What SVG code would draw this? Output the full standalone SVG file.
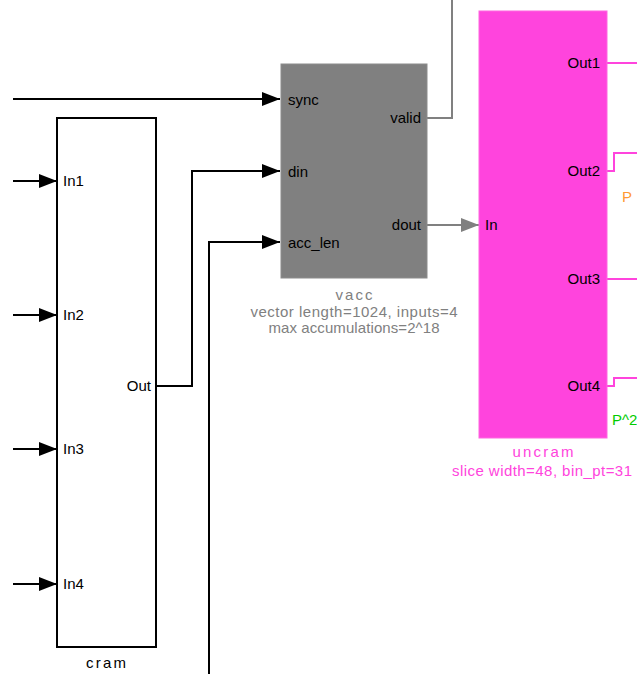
<svg xmlns="http://www.w3.org/2000/svg" width="637" height="674" viewBox="0 0 637 674">
<defs>
<style>
text{font-family:"Liberation Sans",Arial,sans-serif;font-size:15px}
.port{font-size:15px;fill:#000}
.r{text-anchor:end}
.c{text-anchor:middle}
.blk{fill:none;stroke:#000;stroke-width:2}
.gry{fill:none;stroke:#808080;stroke-width:2}
.pnk{fill:none;stroke:#ff44dd;stroke-width:2}
</style>
<marker id="ab" markerUnits="userSpaceOnUse" markerWidth="18" markerHeight="14" refX="18" refY="7" orient="auto"><path d="M0,0 L18,7 L0,14 Z" fill="#000"/></marker>
<marker id="ag" markerUnits="userSpaceOnUse" markerWidth="18" markerHeight="14" refX="18" refY="7" orient="auto"><path d="M0,0 L18,7 L0,14 Z" fill="#808080"/></marker>
</defs>
<rect width="637" height="674" fill="#fff"/>
<g id="connectors">
<path class="blk" d="M13,99 H280" marker-end="url(#ab)"/>
<path class="blk" d="M13,181 H57" marker-end="url(#ab)"/>
<path class="blk" d="M13,315 H57" marker-end="url(#ab)"/>
<path class="blk" d="M13,449 H57" marker-end="url(#ab)"/>
<path class="blk" d="M13,584 H57" marker-end="url(#ab)"/>
<path class="blk" d="M156,386 H192 V171 H280" marker-end="url(#ab)"/>
<path class="blk" d="M209,674 V242 H280" marker-end="url(#ab)"/>
<path class="gry" d="M427,118 H452 V0"/>
<path class="gry" d="M427,225 H479" marker-end="url(#ag)"/>
<path class="pnk" d="M607,63 H637"/>
<path class="pnk" d="M607,171 H614 V153 H637"/>
<path class="pnk" d="M607,279 H637"/>
<path class="pnk" d="M607,386 H614 V378 H637"/>
</g>
<g id="cram">
<rect x="57" y="118" width="99" height="529" fill="#fff" stroke="#000" stroke-width="2"/>
<text class="port" x="63" y="186">In1</text>
<text class="port" x="63" y="320">In2</text>
<text class="port" x="63" y="454">In3</text>
<text class="port" x="63" y="589">In4</text>
<text class="port r" x="151" y="391">Out</text>
<text class="c" x="106" y="668" fill="#000" font-size="17" textLength="40">cram</text>
</g>
<g id="vacc">
<rect x="281" y="64" width="146" height="214" fill="#808080" stroke="#8c8c8c" stroke-width="1"/>
<text class="port" x="288" y="105">sync</text>
<text class="port" x="288" y="177">din</text>
<text class="port" x="288" y="248">acc_len</text>
<text class="port r" x="421" y="123">valid</text>
<text class="port r" x="421" y="230">dout</text>
<text class="c" x="354" y="300" fill="#808080" font-size="17" textLength="37">vacc</text>
<text class="c" x="354" y="317" fill="#808080" textLength="207">vector length=1024, inputs=4</text>
<text class="c" x="354" y="333" fill="#808080" textLength="171">max accumulations=2^18</text>
</g>
<g id="uncram">
<rect x="479" y="11" width="128" height="427" fill="#ff44dd" stroke="#ff66e0" stroke-width="1"/>
<text class="port" x="485" y="230">In</text>
<text class="port r" x="600" y="68">Out1</text>
<text class="port r" x="600" y="176">Out2</text>
<text class="port r" x="600" y="284">Out3</text>
<text class="port r" x="600" y="391">Out4</text>
<text class="c" x="543" y="457" fill="#ff44dd" font-size="17" textLength="61">uncram</text>
<text class="c" x="542" y="476" fill="#ff44dd" textLength="180">slice width=48, bin_pt=31</text>
</g>
<g id="labels">
<text x="622" y="202" fill="#ff9933" font-size="16">P</text>
<text x="612" y="425" fill="#00cc00" font-size="16">P^2</text>
</g>
</svg>
